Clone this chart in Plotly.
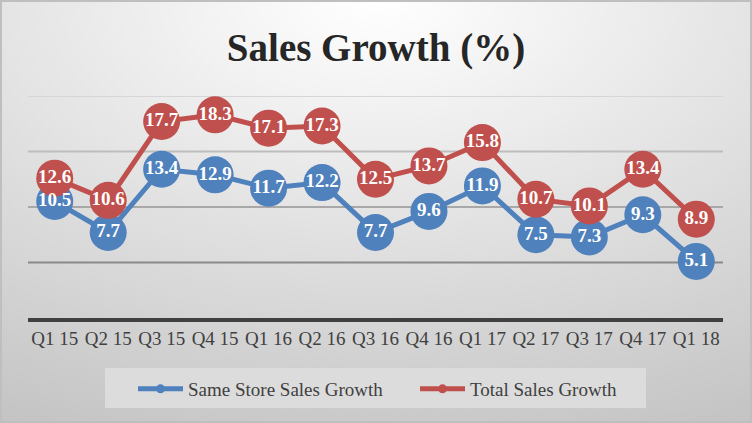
import base64
import plotly.graph_objects as go

quarters = ["Q1 15", "Q2 15", "Q3 15", "Q4 15", "Q1 16", "Q2 16", "Q3 16",
            "Q4 16", "Q1 17", "Q2 17", "Q3 17", "Q4 17", "Q1 18"]
same_store = [10.5, 7.7, 13.4, 12.9, 11.7, 12.2, 7.7, 9.6, 11.9, 7.5, 7.3, 9.3, 5.1]
total_sales = [12.6, 10.6, 17.7, 18.3, 17.1, 17.3, 12.5, 13.7, 15.8, 10.7, 10.1, 13.4, 8.9]
grid_values = [5, 10, 15, 20]
grid_colors = ["#8a8a8a", "#a8a8a8", "#bdbdbd", "#d6d6d6"]

BLUE = "#4f81bd"
RED = "#c0504d"
FONT = "Liberation Serif"

W, H = 752, 423
ML, MR, MT, MB = 28, 29, 96, 105
PW, PH = W - ML - MR, H - MT - MB

svg = f'''<svg xmlns="http://www.w3.org/2000/svg" width="{W}" height="{H}">
<defs><radialGradient id="g" cx="50%" cy="0%" r="110%" fx="50%" fy="0%">
<stop offset="0%" stop-color="#ffffff"/><stop offset="100%" stop-color="#c4c4c4"/>
</radialGradient></defs>
<rect x="0" y="0" width="{W}" height="{H}" fill="url(#g)"/>
<rect x="1" y="1" width="{W-2}" height="{H-2}" fill="none" stroke="#bfbfbf" stroke-width="2"/>
</svg>'''
bg_uri = "data:image/svg+xml;base64," + base64.b64encode(svg.encode()).decode()

fig = go.Figure()

# line + marker traces
fig.add_trace(go.Scatter(x=quarters, y=same_store, mode="lines+markers",
                         line=dict(color=BLUE, width=5),
                         marker=dict(color=BLUE, size=37),
                         showlegend=False, hoverinfo="skip"))
fig.add_trace(go.Scatter(x=quarters, y=total_sales, mode="lines+markers",
                         line=dict(color=RED, width=5),
                         marker=dict(color=RED, size=37),
                         showlegend=False, hoverinfo="skip"))
# label traces on top
for vals in (same_store, total_sales):
    fig.add_trace(go.Scatter(x=quarters, y=vals, mode="text",
                             text=[f"{v:.1f}" for v in vals],
                             textposition="middle center",
                             textfont=dict(family=FONT, size=19, color="white", weight="bold"),
                             showlegend=False, hoverinfo="skip"))
# legend entries
for name, col in (("Same Store Sales Growth", BLUE), ("Total Sales Growth", RED)):
    fig.add_trace(go.Scatter(x=[None], y=[None], mode="lines+markers", name=name,
                             line=dict(color=col, width=5),
                             marker=dict(color=col, size=9)))

shapes = []
for gv, gc in zip(grid_values, grid_colors):
    shapes.append(dict(type="line", xref="paper", yref="y", x0=0, x1=1, y0=gv, y1=gv,
                       line=dict(color=gc, width=2), layer="below"))
# legend box
shapes.append(dict(type="rect", xref="paper", yref="paper",
                   x0=(105 - ML) / PW, x1=(646 - ML) / PW,
                   y0=(H - MB - 408) / PH, y1=(H - MB - 368) / PH,
                   fillcolor="#dcdcdc", line=dict(width=0), layer="below"))

fig.update_layout(
    width=W, height=H,
    margin=dict(l=ML, r=MR, t=MT, b=MB),
    paper_bgcolor="#d8d8d8",
    plot_bgcolor="rgba(0,0,0,0)",
    title=dict(text="<b>Sales Growth (%)</b>", x=0.5, xref="container", xanchor="center",
               y=1 - 47 / H, yanchor="middle",
               font=dict(family=FONT, size=39, color="#262626")),
    images=[dict(source=bg_uri, xref="paper", yref="paper",
                 x=-ML / PW, y=1 + MT / PH, sizex=W / PW, sizey=H / PH,
                 xanchor="left", yanchor="top", sizing="stretch", layer="below")],
    shapes=shapes,
    xaxis=dict(showgrid=False, zeroline=False, showline=True, linecolor="#404040",
               linewidth=4, ticks="", tickfont=dict(family=FONT, size=19, color="#404040"),
               range=[-0.5, len(quarters) - 0.5], fixedrange=True),
    yaxis=dict(range=[0, 20], showgrid=False, zeroline=False, showticklabels=False,
               showline=False, fixedrange=True),
    legend=dict(orientation="h", x=(133 - ML) / PW, xanchor="left", y=(H - MB - 389) / PH,
                yanchor="middle", bgcolor="rgba(0,0,0,0)",
                font=dict(family=FONT, size=19, color="#404040"),
                itemwidth=45, entrywidth=222, entrywidthmode="pixels"),
    showlegend=True,
)

fig.write_html("out.html", config={"displayModeBar": False},
               post_script="document.body.style.margin='0';document.body.style.overflow='hidden';")
